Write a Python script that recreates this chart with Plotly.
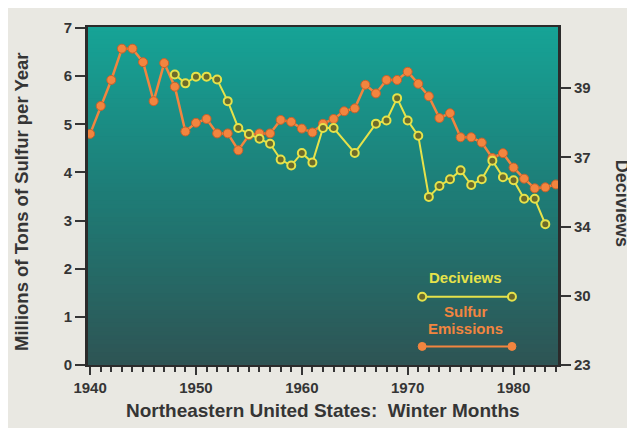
import math
import plotly.graph_objects as go

# ---------------- data ----------------
sulfur_years = list(range(1940, 1985))
sulfur_values = [4.80, 5.38, 5.92, 6.57, 6.57, 6.29, 5.48, 6.27, 5.78, 4.85,
                 5.03, 5.11, 4.81, 4.81, 4.46, 4.77, 4.81, 4.81, 5.09, 5.05,
                 4.91, 4.83, 5.01, 5.11, 5.27, 5.33, 5.82, 5.64, 5.92, 5.92,
                 6.09, 5.84, 5.58, 5.13, 5.23, 4.73, 4.73, 4.62, 4.30, 4.40,
                 4.10, 3.87, 3.67, 3.69, 3.75]

dv_years = [1948, 1949, 1950, 1951, 1952, 1953, 1954, 1955, 1956, 1957,
            1958, 1959, 1960, 1961, 1962, 1963, 1965, 1967, 1968, 1969,
            1970, 1971, 1972, 1973, 1974, 1975, 1976, 1977, 1978, 1979,
            1980, 1981, 1982, 1983]
dv_values = [39.51, 39.26, 39.45, 39.45, 39.37, 38.74, 37.90, 37.70, 37.54, 37.37,
             36.81, 36.59, 37.05, 36.70, 37.90, 37.90, 37.05, 38.04, 38.14, 38.83,
             38.14, 37.64, 35.35, 35.80, 36.07, 36.41, 35.84, 36.07, 36.77, 36.15,
             36.03, 35.27, 35.27, 34.13]

left_ticks = [0, 1, 2, 3, 4, 5, 6, 7]
right_tick_labels = ["23", "30", "34", "37", "39"]
x_tick_years = [1940, 1950, 1960, 1970, 1980]

# right axis is linear in light extinction (Mm-1); deciviews = 10 ln(b/10)
def extinction(dv):
    return 10.0 * math.exp(dv / 10.0)

right_tick_positions = [100, 200, 300, 400, 500]

TEXT = "#353535"
ORANGE = "#f2853f"
YELLOW = "#e6e24a"
FONT = "Liberation Sans"

fig = go.Figure()

fig.add_trace(go.Scatter(
    x=sulfur_years, y=sulfur_values, mode="lines+markers",
    line=dict(color=ORANGE, width=2.5),
    marker=dict(color=ORANGE, size=9, line=dict(color="#c8602a", width=1)),
    showlegend=False, yaxis="y"))

fig.add_trace(go.Scatter(
    x=dv_years, y=[extinction(v) for v in dv_values], mode="lines+markers",
    line=dict(color=YELLOW, width=2),
    marker=dict(color="#6b6a2a", size=8, line=dict(color=YELLOW, width=2)),
    showlegend=False, yaxis="y2"))

# gradient background bands
shapes = []
N = 80
top = (22, 163, 150)
mid = (30, 124, 118)
bot = (46, 84, 84)
for i in range(N):
    t = (i + 0.5) / N  # 0 bottom -> 1 top
    if t < 0.5:
        a, b, f = bot, mid, t / 0.5
    else:
        a, b, f = mid, top, (t - 0.5) / 0.5
    c = tuple(int(round(a[k] + (b[k] - a[k]) * f)) for k in range(3))
    shapes.append(dict(type="rect", xref="x domain", yref="y domain",
                       x0=0, x1=1, y0=i / N, y1=(i + 1) / N + 0.002,
                       fillcolor="rgb(%d,%d,%d)" % c, line=dict(width=0),
                       layer="below"))

# custom legend (paper coordinates)
def leg_line(y, color):
    shapes.append(dict(type="line", xref="paper", yref="paper",
                       x0=0.711, x1=0.902, y0=y, y1=y,
                       line=dict(color=color, width=2)))

def leg_dot(x, y, fill, edge, w):
    shapes.append(dict(type="circle", xref="paper", yref="paper",
                       xsizemode="pixel", ysizemode="pixel",
                       xanchor=x, yanchor=y, x0=-4, x1=4, y0=-4, y1=4,
                       fillcolor=fill, line=dict(color=edge, width=w)))

leg_line(0.202, YELLOW)
leg_dot(0.711, 0.202, "#6b6a2a", YELLOW, 2)
leg_dot(0.902, 0.202, "#6b6a2a", YELLOW, 2)
leg_line(0.055, ORANGE)
leg_dot(0.711, 0.055, ORANGE, ORANGE, 1)
leg_dot(0.902, 0.055, ORANGE, ORANGE, 1)

def ann(text, x, y, size, color, angle=0):
    return dict(text="<b>%s</b>" % text, xref="paper", yref="paper", x=x, y=y,
                xanchor="center", yanchor="middle", textangle=angle,
                showarrow=False, font=dict(family=FONT, size=size, color=color))

annotations = [
    ann("Deciviews", 0.804, 0.258, 15, YELLOW),
    ann("Sulfur", 0.804, 0.159, 15, ORANGE),
    ann("Emissions", 0.804, 0.108, 15, ORANGE),
    ann("Millions of Tons of Sulfur per Year", -0.140, 0.483, 18.5, TEXT, -90),
    ann("Deciviews", 1.136, 0.477, 18, TEXT, 90),
    ann("Northeastern United States:  Winter Months", 0.50, -0.136, 19, TEXT),
]

tickfont = dict(family=FONT, size=15, color=TEXT, weight="bold")

# page body adds an 8px margin, so the figure is 8px smaller than the window
fig.update_layout(
    width=627, height=420,
    margin=dict(l=80, r=77, t=11, b=63),
    paper_bgcolor="#e9e8e2", plot_bgcolor="#1f7a74",
    shapes=shapes, annotations=annotations,
    font=dict(family=FONT, color=TEXT),
    xaxis=dict(range=[1939.8, 1984.2], tickvals=x_tick_years,
               ticktext=[str(v) for v in x_tick_years],
               ticks="outside", ticklen=8, tickwidth=2, tickcolor=TEXT,
               minor=dict(dtick=1, tick0=1940, ticks="outside", ticklen=5,
                          tickwidth=2, tickcolor=TEXT),
               showgrid=False, zeroline=False,
               showline=True, linecolor="#2b2b2b", linewidth=2, mirror=True,
               tickfont=tickfont),
    yaxis=dict(range=[0, 7.02], tickvals=left_ticks,
               ticks="outside", ticklen=10, tickwidth=2, tickcolor=TEXT,
               showgrid=False, zeroline=False,
               showline=True, linecolor="#2b2b2b", linewidth=3,
               tickfont=tickfont),
    yaxis2=dict(range=[100, 588.5], overlaying="y", side="right",
                tickvals=right_tick_positions, ticktext=right_tick_labels,
                ticks="outside", ticklen=10, tickwidth=2, tickcolor=TEXT,
                showgrid=False, zeroline=False,
                showline=True, linecolor="#2b2b2b", linewidth=3,
                tickfont=tickfont),
)

fig.write_html("out.html")
